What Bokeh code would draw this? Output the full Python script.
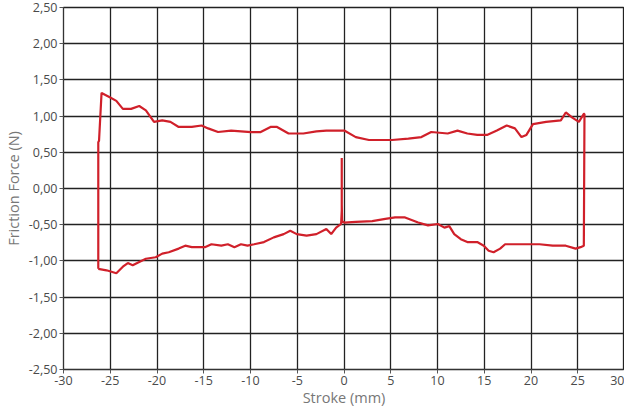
from bokeh.plotting import figure
from bokeh.embed import file_html
from bokeh.resources import INLINE
from bokeh.models import FixedTicker, CustomJSTickFormatter, Range1d

# Upper branch (moving right), Stroke (mm) vs Friction Force (N)
upper_x = [-26.28, -26.28, -26.2, -25.93, -25.05, -24.35, -23.65, -22.77, -21.9, -21.19,
           -20.32, -19.44, -18.56, -17.68, -16.28, -15.23, -14.53, -13.47, -12.07, -9.96,
           -8.91, -7.86, -7.16, -5.93, -4.35, -2.95, -1.89, 0.03, 1.26, 2.67, 5.12, 6.88,
           8.28, 9.33, 11.09, 12.14, 13.19, 14.25, 15.3, 16.35, 17.4, 18.28, 18.98, 19.51,
           20.21, 21.61, 23.19, 23.72, 24.42, 25.12, 25.65, 25.72]
upper_y = [-1.11, 0.64, 0.66, 1.32, 1.26, 1.21, 1.10, 1.10, 1.14, 1.08,
           0.92, 0.94, 0.92, 0.85, 0.85, 0.87, 0.83, 0.78, 0.80, 0.78,
           0.78, 0.85, 0.85, 0.76, 0.76, 0.79, 0.80, 0.80, 0.71, 0.67, 0.67, 0.69,
           0.71, 0.78, 0.76, 0.80, 0.76, 0.74, 0.74, 0.80, 0.87, 0.83, 0.71, 0.74,
           0.89, 0.92, 0.94, 1.05, 0.98, 0.92, 1.03, 1.03]

# Lower branch (moving left)
lower_x = [25.72, 25.65, 25.3, 24.77, 23.72, 22.32, 20.91, 19.86, 18.1, 17.23, 16.7,
           16.0, 15.47, 14.95, 14.25, 13.19, 12.49, 11.79, 11.26, 10.74, 10.04, 8.98,
           7.93, 6.53, 5.47, 4.42, 3.02, 1.26, 0.03, -0.2, -0.24, -0.24, -0.24, -0.31,
           -0.84, -1.37, -1.89, -2.95, -4.0, -5.05, -5.75, -6.45, -7.51, -8.56, -9.61,
           -10.32, -11.02, -11.72, -12.42, -13.12, -14.18, -14.88, -16.28, -16.98,
           -17.68, -18.74, -19.44, -20.14, -21.19, -21.9, -22.6, -23.12, -23.65,
           -24.35, -24.87, -25.4, -26.28]
lower_y = [1.03, -0.79, -0.81, -0.83, -0.79, -0.79, -0.77, -0.77, -0.77, -0.77, -0.83,
           -0.88, -0.86, -0.79, -0.74, -0.74, -0.70, -0.63, -0.52, -0.54, -0.49, -0.51,
           -0.47, -0.40, -0.40, -0.42, -0.45, -0.46, -0.47, -0.45, -0.22, 0.42, -0.30, -0.49,
           -0.54, -0.63, -0.56, -0.63, -0.65, -0.63, -0.585, -0.63, -0.675, -0.74, -0.77,
           -0.79, -0.77, -0.81, -0.77, -0.79, -0.77, -0.81, -0.81, -0.79,
           -0.83, -0.88, -0.90, -0.95, -0.97, -1.015, -1.06, -1.03, -1.08,
           -1.17, -1.15, -1.13, -1.11]

x_ticks = list(range(-30, 31, 5))
y_ticks = [-2.5, -2.0, -1.5, -1.0, -0.5, 0.0, 0.5, 1.0, 1.5, 2.0, 2.5]

p = figure(width=624, height=409, output_backend="svg", toolbar_location=None,
           x_range=Range1d(-30, 30), y_range=Range1d(-2.5, 2.5),
           min_border_left=50, min_border_right=0, min_border_top=7, min_border_bottom=0,
           x_axis_label="Stroke (mm)", y_axis_label="Friction Force (N)")

p.line(upper_x + lower_x, upper_y + lower_y, line_color="#d0202a", line_width=2.2)

for ax in (p.xaxis[0], p.yaxis[0]):
    ax.major_label_text_font = "Open Sans"
    ax.major_label_text_font_size = "12.5px"
    ax.major_label_text_color = "#4a4a4a"
    ax.axis_label_text_font = "Open Sans"
    ax.axis_label_text_font_size = "14.5px"
    ax.axis_label_text_font_style = "normal"
    ax.axis_label_text_color = "#777777"
    ax.axis_line_color = "#333333"
    ax.major_tick_line_color = "#555555"
    ax.major_tick_in = 0
    ax.major_tick_out = 4
    ax.minor_tick_line_color = None
    ax.major_label_standoff = 2

p.xaxis[0].ticker = FixedTicker(ticks=x_ticks)
p.yaxis[0].ticker = FixedTicker(ticks=y_ticks)
p.xaxis[0].formatter = CustomJSTickFormatter(code="return tick.toFixed(0);")
p.yaxis[0].formatter = CustomJSTickFormatter(code="return tick.toFixed(2).replace('.', ',');")
p.xaxis[0].axis_label_standoff = 0
p.yaxis[0].axis_label_standoff = 3

p.xgrid.grid_line_color = "#222222"
p.ygrid.grid_line_color = "#222222"
p.xgrid.grid_line_width = 1.3
p.ygrid.grid_line_width = 1.3
p.outline_line_color = "#222222"
p.outline_line_width = 1.3
p.background_fill_color = "white"
p.border_fill_color = "white"

open("out.html", "w").write(file_html(p, INLINE))
